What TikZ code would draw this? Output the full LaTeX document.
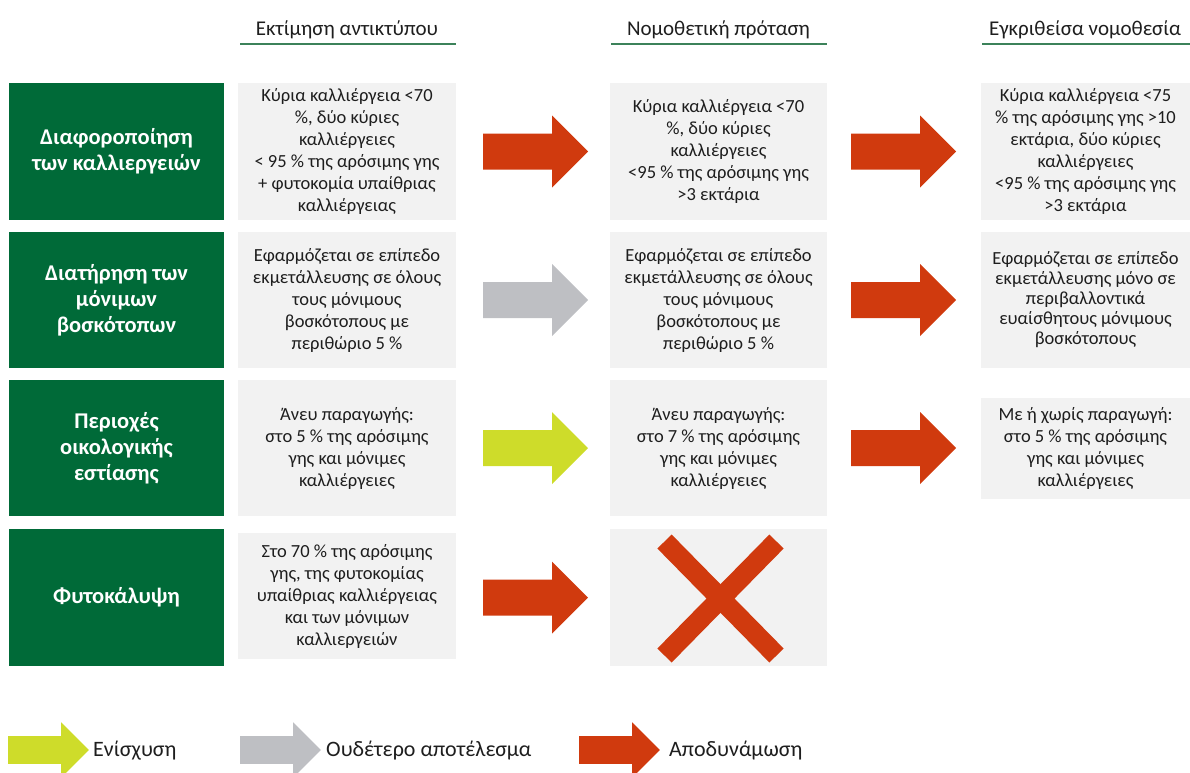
\documentclass[tikz,border=0pt]{standalone}
\usepackage{fontspec}
\setmainfont{Carlito}
\definecolor{dgreen}{RGB}{0,106,56}
\definecolor{ared}{RGB}{208,58,14}
\definecolor{alime}{RGB}{206,220,42}
\definecolor{agrey}{RGB}{190,191,195}
\definecolor{boxgrey}{RGB}{242,242,242}
\definecolor{uline}{RGB}{60,130,90}
\definecolor{txt}{RGB}{30,30,30}
\newcommand{\myarrow}[4]{% left x, centre y, colour, scale
  \fill[#3] (#1,#2-18*#4) -- ++(69*#4,0) -- ++(0,-18*#4) -- ++(36*#4,36*#4)
    -- ++(-36*#4,36*#4) -- ++(0,-18*#4) -- ++(-69*#4,0) -- cycle;}
\tikzset{
  catbox/.style={fill=dgreen, text=white, font=\fontsize{22.5}{26}\selectfont\bfseries,
    align=center, minimum width=215pt, inner sep=0pt},
  infobox/.style={fill=boxgrey, text=txt, font=\fontsize{18.5}{22}\selectfont,
    align=center, inner sep=0pt},
  header/.style={font=\fontsize{21}{24}\selectfont, text=txt, inner sep=0pt},
  legendtext/.style={font=\fontsize{22}{24}\selectfont, text=txt, anchor=west, inner sep=0pt},
  headline/.style={draw=uline, line width=1.5pt},
  xmark/.style={draw=ared, line width=20pt, line cap=butt}
}
\begin{document}
\begin{tikzpicture}[x=1pt,y=-1pt]
\useasboundingbox (0,0) rectangle (1190,772);
\clip (0,0) rectangle (1190,772);

% headers
\node[header] (h1) at (347,30) {Εκτίμηση αντικτύπου};
\node[header] (h2) at (718.5,30) {Νομοθετική πρόταση};
\node[header] (h3) at (1085,30) {Εγκριθείσα νομοθεσία};
\coordinate (u1a) at (240,44); \coordinate (u1b) at (456,44);
\coordinate (u2a) at (611,44); \coordinate (u2b) at (827,44);
\coordinate (u3a) at (982,44); \coordinate (u3b) at (1190,44);
\draw[headline] (u1a) -- (u1b);
\draw[headline] (u2a) -- (u2b);
\draw[headline] (u3a) -- (u3b);

% category boxes
\node[catbox, minimum height=137pt] (g1) at (116.5,151.5) {Διαφοροποίηση\\των καλλιεργειών};
\node[catbox, minimum height=136pt] (g2) at (116.5,300) {Διατήρηση των\\μόνιμων\\βοσκότοπων};
\node[catbox, minimum height=136pt] (g3) at (116.5,448) {Περιοχές\\οικολογικής\\εστίασης};
\node[catbox, minimum height=137pt] (g4) at (116.5,597.5) {Φυτοκάλυψη};

% column 1
\node[infobox, minimum width=218pt, minimum height=137pt] (a1) at (347,151.5)
  {Κύρια καλλιέργεια <70\\\%, δύο κύριες\\καλλιέργειες\\< 95 \% της αρόσιμης γης\\+ φυτοκομία υπαίθριας\\καλλιέργειας};
\node[infobox, minimum width=218pt, minimum height=136pt] (a2) at (347,300)
  {Εφαρμόζεται σε επίπεδο\\εκμετάλλευσης σε όλους\\τους μόνιμους\\βοσκότοπους με\\περιθώριο 5 \%};
\node[infobox, minimum width=218pt, minimum height=136pt] (a3) at (347,448)
  {Άνευ παραγωγής:\\στο 5 \% της αρόσιμης\\γης και μόνιμες\\καλλιέργειες};
\node[infobox, minimum width=218pt, minimum height=126pt] (a4) at (347,596)
  {Στο 70 \% της αρόσιμης\\γης, της φυτοκομίας\\υπαίθριας καλλιέργειας\\και των μόνιμων\\καλλιεργειών};

% column 2
\node[infobox, minimum width=217pt, minimum height=137pt] (b1) at (718.5,151.5)
  {Κύρια καλλιέργεια <70\\\%, δύο κύριες\\καλλιέργειες\\<95 \% της αρόσιμης γης\\>3 εκτάρια};
\node[infobox, minimum width=217pt, minimum height=136pt] (b2) at (718.5,300)
  {Εφαρμόζεται σε επίπεδο\\εκμετάλλευσης σε όλους\\τους μόνιμους\\βοσκότοπους με\\περιθώριο 5 \%};
\node[infobox, minimum width=217pt, minimum height=136pt] (b3) at (718.5,448)
  {Άνευ παραγωγής:\\στο 7 \% της αρόσιμης\\γης και μόνιμες\\καλλιέργειες};
\node[infobox, minimum width=217pt, minimum height=137pt] (b4) at (718.5,597.5) {};

% column 3
\node[infobox, minimum width=209pt, minimum height=137pt] (c1) at (1085.5,151.5)
  {Κύρια καλλιέργεια <75\\\% της αρόσιμης γης >10\\εκτάρια, δύο κύριες\\καλλιέργειες\\<95 \% της αρόσιμης γης\\>3 εκτάρια};
\node[infobox, minimum width=209pt, minimum height=136pt, font=\fontsize{18.5}{20}\selectfont] (c2) at (1085.5,300)
  {Εφαρμόζεται σε επίπεδο\\εκμετάλλευσης μόνο σε\\περιβαλλοντικά\\ευαίσθητους μόνιμους\\βοσκότοπους};
\node[infobox, minimum width=209pt, minimum height=101pt] (c3) at (1085.5,448.5)
  {Με ή χωρίς παραγωγή:\\στο 5 \% της αρόσιμης\\γης και μόνιμες\\καλλιέργειες};

% X mark
\coordinate (x1) at (664.5,541.5); \coordinate (x2) at (776.5,655.5);
\coordinate (x3) at (776.5,541.5); \coordinate (x4) at (664.5,655.5);
\draw[xmark] (x1) -- (x2);
\draw[xmark] (x3) -- (x4);

% block arrows
\myarrow{483}{151.5}{ared}{1}
\myarrow{483}{300}{agrey}{1}
\myarrow{483}{448}{alime}{1}
\myarrow{483}{597.5}{ared}{1}
\myarrow{851}{151.5}{ared}{1}
\myarrow{851}{300}{ared}{1}
\myarrow{851}{448}{ared}{1}

% legend
\myarrow{8}{750}{alime}{0.77}
\myarrow{240}{750}{agrey}{0.77}
\myarrow{579}{750}{ared}{0.77}
\node[legendtext] (l1) at (93,751) {Ενίσχυση};
\node[legendtext] (l2) at (326,751) {Ουδέτερο αποτέλεσμα};
\node[legendtext] (l3) at (669,751) {Αποδυνάμωση};
\end{tikzpicture}
\end{document}
